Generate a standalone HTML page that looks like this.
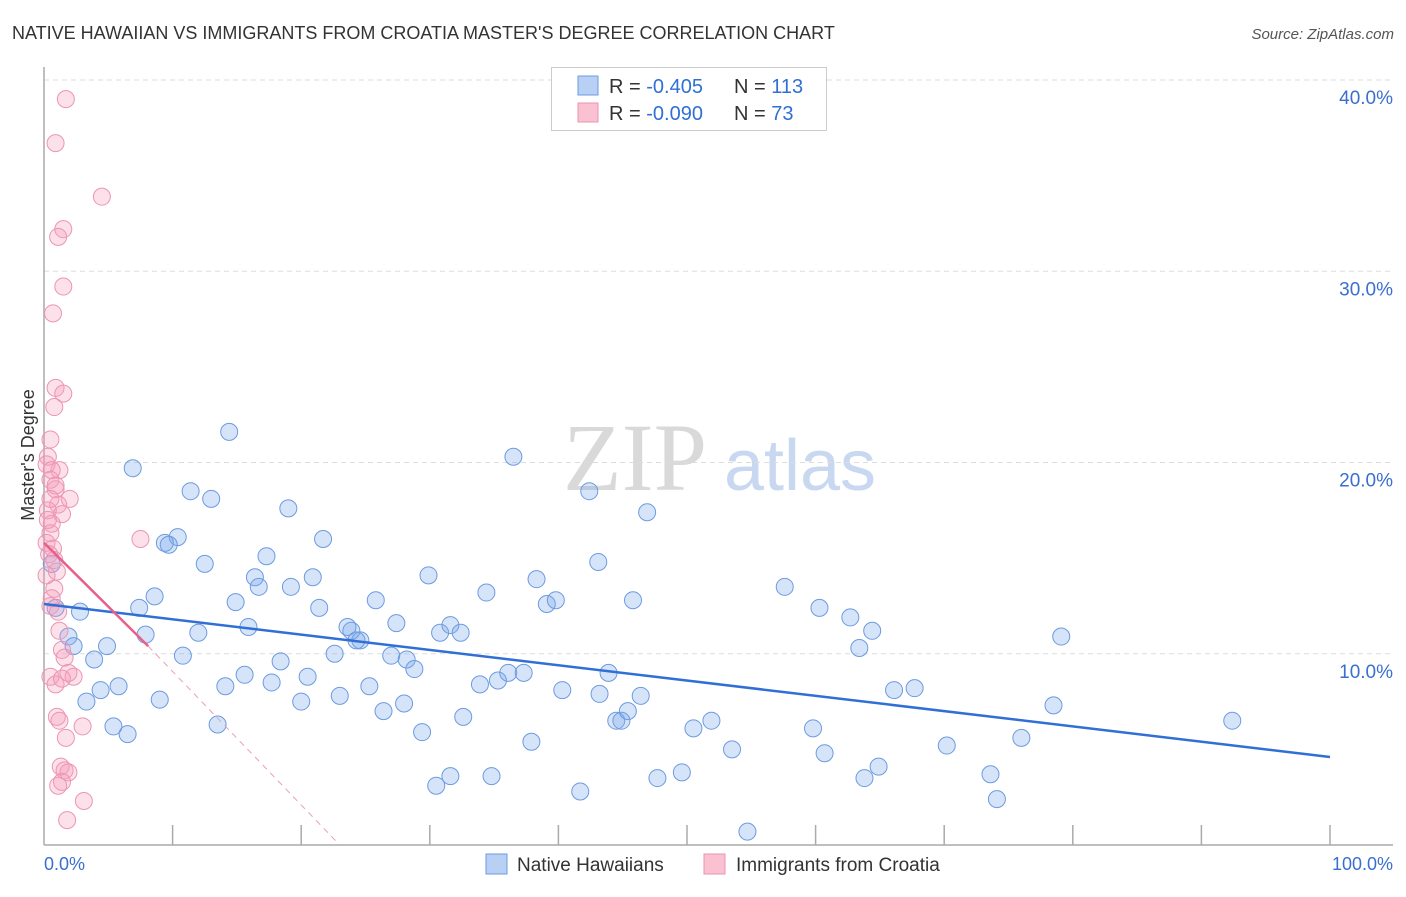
<!DOCTYPE html>
<html><head><meta charset="utf-8"><style>
body{margin:0;background:#fff;font-family:"Liberation Sans",sans-serif}
</style></head><body>
<svg width="1406" height="892" xmlns="http://www.w3.org/2000/svg" font-family="Liberation Sans, sans-serif">
<text x="12" y="39" font-size="18" fill="#333">NATIVE HAWAIIAN VS IMMIGRANTS FROM CROATIA MASTER'S DEGREE CORRELATION CHART</text>
<text x="1394" y="39" font-size="15" fill="#555" font-style="italic" text-anchor="end">Source: ZipAtlas.com</text>
<g>
<text x="635" y="490" font-size="96" fill="#d9d9d9" font-family="Liberation Serif, serif" text-anchor="middle">ZIP</text>
<text x="800" y="490" font-size="72" fill="#c8d8f0" text-anchor="middle">atlas</text>
</g>
<g id="grid"></g>
<g id="axes"></g>
<g id="pts"></g>
<g id="lines"></g>
<text transform="translate(34,455) rotate(-90)" font-size="18" fill="#333" text-anchor="middle">Master's Degree</text>
<text x="44" y="870" font-size="18" fill="#3a6fd0">0.0%</text>
<text x="1393" y="870" font-size="18" fill="#3a6fd0" text-anchor="end">100.0%</text>
<g>
<rect x="551.5" y="67.5" width="275" height="63" fill="#fff" stroke="#ccc"/>
<rect x="578" y="76" width="20" height="19" fill="#b8d0f4" stroke="#6d9be0"/>
<rect x="578" y="103" width="20" height="19" fill="#f9c1d2" stroke="#eb93b0"/>
<text x="609" y="93" font-size="20" fill="#333">R = <tspan fill="#2f6fd6">-0.405</tspan></text>
<text x="734" y="93" font-size="20" fill="#333">N = <tspan fill="#2f6fd6">113</tspan></text>
<text x="609" y="120" font-size="20" fill="#333">R = <tspan fill="#2f6fd6">-0.090</tspan></text>
<text x="734" y="120" font-size="20" fill="#333">N = <tspan fill="#2f6fd6"> 73</tspan></text>
</g>
<g>
<rect x="486" y="854" width="21" height="20" fill="#b8d0f4" stroke="#6d9be0"/>
<text x="517" y="871" font-size="19" fill="#333">Native Hawaiians</text>
<rect x="704" y="854" width="21" height="20" fill="#f9c1d2" stroke="#eb93b0"/>
<text x="736" y="871" font-size="19" fill="#333">Immigrants from Croatia</text>
</g>
</svg>
<script>
const yTicks=[10,20,30,40];
const yTickLabels=["10.0%","20.0%","30.0%","40.0%"];
const xTicks=[10,20,30,40,50,60,70,80,90,100];
const blueX=[6.9,14.4,11.4,13.0,19.0,10.4,9.4,9.7,21.7,17.3,12.5,36.5,42.4,46.9,43.1,16.4,20.9,19.2,16.7,8.6,7.4,14.9,21.4,25.8,29.9,34.4,38.3,39.1,39.8,45.8,57.6,60.3,62.7,64.4,63.4,79.1,2.8,1.9,2.3,4.9,7.9,12.0,15.9,23.9,23.6,24.6,24.3,27.4,30.8,31.6,32.4,22.6,27.0,28.2,28.8,18.4,15.6,20.5,17.7,10.8,3.9,4.4,5.8,3.3,9.0,5.4,6.5,13.5,14.1,20.0,23.0,25.3,26.4,28.0,29.4,32.6,33.9,35.3,36.1,37.3,40.3,43.2,43.9,46.4,44.5,44.9,45.4,37.9,30.5,31.6,34.8,41.7,47.7,49.6,50.5,51.9,53.5,59.8,60.7,63.8,64.9,66.1,67.7,70.2,73.6,74.1,76.0,78.5,92.4,54.7,0.6,0.9];
const blueY=[19.7,21.6,18.5,18.1,17.6,16.1,15.8,15.7,16.0,15.1,14.7,20.3,18.5,17.4,14.8,14.0,14.0,13.5,13.5,13.0,12.4,12.7,12.4,12.8,14.1,13.2,13.9,12.6,12.8,12.8,13.5,12.4,11.9,11.2,10.3,10.9,12.2,10.9,10.4,10.4,11.0,11.1,11.4,11.2,11.4,10.7,10.7,11.6,11.1,11.5,11.1,10.0,9.9,9.7,9.2,9.6,8.9,8.8,8.5,9.9,9.7,8.1,8.3,7.5,7.6,6.2,5.8,6.3,8.3,7.5,7.8,8.3,7.0,7.4,5.9,6.7,8.4,8.6,9.0,9.0,8.1,7.9,9.0,7.8,6.5,6.5,7.0,5.4,3.1,3.6,3.6,2.8,3.5,3.8,6.1,6.5,5.0,6.1,4.8,3.5,4.1,8.1,8.2,5.2,3.7,2.4,5.6,7.3,6.5,0.7,14.7,12.4];
const pinkX=[1.7,0.9,4.5,1.5,1.1,1.5,0.7,0.9,1.5,0.8,0.5,0.3,1.2,0.5,0.9,2.0,1.1,0.3,1.4,0.6,0.5,0.2,0.7,0.4,7.5,0.8,1.0,0.8,0.5,1.1,1.2,1.4,1.6,0.5,0.9,2.3,1.4,1.9,1.0,1.2,3.0,1.7,1.3,1.6,1.9,1.4,1.1,3.1,1.8,0.6,0.2,0.3,0.9,0.5,0.2,0.6];
const pinkY=[39.0,36.7,33.9,32.2,31.8,29.2,27.8,23.9,23.6,22.9,21.2,20.3,19.6,19.1,18.6,18.1,17.8,17.5,17.3,16.8,16.3,15.8,15.5,15.2,16.0,14.9,14.3,13.4,12.5,12.2,11.2,10.2,9.8,8.8,8.4,8.8,8.7,9.0,6.7,6.5,6.2,5.6,4.1,3.9,3.8,3.3,3.1,2.3,1.3,12.9,14.1,17.0,18.8,18.1,19.9,19.6];
const blueTrendX=[0,100];
const blueTrendY=[12.6,4.6];
const pinkTrendX=[0,8.1];
const pinkTrendY=[15.8,10.4];
const pinkDashX=[8.1,23.0];
const pinkDashY=[10.4,0];

const L=44,R=1330,B=845,T=80;
const sx=v=>L+(R-L)*v/100;
const sy=v=>B-(B-T)*v/40;
const NS="http://www.w3.org/2000/svg";
function mk(tag,parent,attrs){const e=document.createElementNS(NS,tag);for(const k in attrs)e.setAttribute(k,attrs[k]);document.getElementById(parent).appendChild(e);return e;}
yTicks.forEach((v,i)=>{
 const g=mk('line','grid',{x1:L,x2:1393,y1:sy(v),y2:sy(v),stroke:'#ddd','stroke-dasharray':'5,4'});
 
 
 const t=mk('text','grid',{x:1393,y:sy(v)+24,'font-size':19,fill:'#3a6fd0','text-anchor':'end'});
 t.textContent=yTickLabels[i];
 
 
});
const ya=mk('line','axes',{x1:L,x2:L,y1:67,y2:B,stroke:'#aaa','stroke-width':1.5});


const xa=mk('line','axes',{x1:L,x2:1393,y1:B,y2:B,stroke:'#aaa','stroke-width':1.5});


xTicks.forEach(v=>{
 const t=mk('line','axes',{x1:sx(v),x2:sx(v),y1:B-20,y2:B,stroke:'#aaa','stroke-width':1.5});
 
 
});
blueX.forEach((v,i)=>{
 const c=mk('circle','pts',{cx:sx(v),cy:sy(blueY[i]),r:8.5,fill:'rgba(120,165,235,0.3)',stroke:'#6c9be0','stroke-width':1});
 
 
});
pinkX.forEach((v,i)=>{
 const c=mk('circle','pts',{cx:sx(v),cy:sy(pinkY[i]),r:8.5,fill:'rgba(245,155,185,0.3)',stroke:'#ec95b2','stroke-width':1});
 
 
});
const bl=mk('line','lines',{x1:sx(blueTrendX[0]),y1:sy(blueTrendY[0]),x2:sx(blueTrendX[1]),y2:sy(blueTrendY[1]),stroke:'#2f6fd6','stroke-width':2.5});


const pl=mk('line','lines',{x1:sx(pinkTrendX[0]),y1:sy(pinkTrendY[0]),x2:sx(pinkTrendX[1]),y2:sy(pinkTrendY[1]),stroke:'#e8608a','stroke-width':2.5});


const pd=mk('line','lines',{x1:sx(pinkDashX[0]),y1:sy(pinkDashY[0]),x2:sx(pinkDashX[1]),y2:sy(pinkDashY[1]),stroke:'#e8a0b8','stroke-width':1,'stroke-dasharray':'6,5'});


</script>
</body></html>
